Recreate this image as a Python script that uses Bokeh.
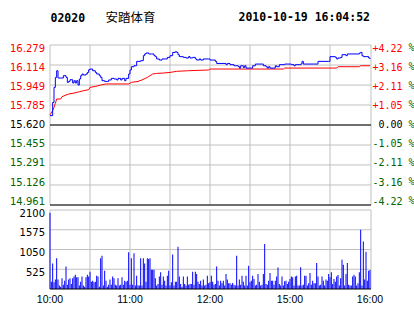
from bokeh.plotting import figure
from bokeh.models import Range1d
from bokeh.embed import file_html
from bokeh.resources import INLINE
from bokeh.core.properties import value

# ---------------- data ----------------
stock_code = "02020"
stock_name = "安踏体育"
timestamp = "2010-10-19 16:04:52"

prev_close = 15.620
price_ticks = [14.961, 15.126, 15.291, 15.455, 15.620, 15.785, 15.949, 16.114, 16.279]
pct_labels = ["-4.22", "-3.16", "-2.11", "-1.05", "0.00", "+1.05", "+2.11", "+3.16", "+4.22"]
vol_ticks = [525, 1050, 1575, 2100]
time_labels = ["10:00", "11:00", "12:00", "15:00", "16:00"]
grid_times = ["10:00", "10:30", "11:00", "11:30", "12:00", "12:30", "15:00", "15:30"]

price_times = ["10:00", "10:02", "10:03", "10:04", "10:05", "10:06", "10:09", "10:10", "10:12", "10:13",
               "10:14", "10:15", "10:17", "10:18", "10:19", "10:20", "10:21", "10:22", "10:23", "10:24",
               "10:25", "10:27", "10:28", "10:29", "10:30", "10:32", "10:34", "10:35", "10:37", "10:38",
               "10:39", "10:41", "10:43", "10:44", "10:46", "10:48", "10:50", "10:51", "10:53", "10:54",
               "10:56", "10:57", "10:59", "11:00", "11:01", "11:03", "11:05", "11:08", "11:10", "11:11",
               "11:12", "11:14", "11:16", "11:18", "11:19", "11:20", "11:22", "11:24", "11:27", "11:28",
               "11:30", "11:32", "11:34", "11:35", "11:36", "11:37", "11:40", "11:42", "11:44", "11:45",
               "11:47", "11:49", "11:50", "11:52", "11:53", "11:55", "11:59", "12:00", "12:04", "12:05",
               "12:12", "12:13", "12:15", "12:18", "12:21", "12:22", "12:23", "12:25", "12:26", "12:27",
               "12:30", "14:32", "14:34", "14:39", "14:40", "14:42", "14:43", "14:44", "14:45", "14:48",
               "14:49", "14:50", "14:52", "14:56", "15:01", "15:03", "15:04", "15:08", "15:09", "15:10",
               "15:21", "15:29", "15:30", "15:34", "15:35", "15:36", "15:38", "15:39", "15:42", "15:43",
               "15:52", "15:53", "15:54", "15:55", "15:59", "16:00"]
price_values = [15.697, 15.806, 15.930, 16.012, 16.067, 16.007, 16.007, 16.026, 16.012, 15.971,
                15.979, 15.993, 15.966, 15.985, 15.966, 15.985, 15.949, 15.999, 16.026, 16.040,
                16.032, 16.040, 16.053, 16.075, 16.081, 16.067, 16.053, 16.040, 16.026, 16.012,
                15.985, 15.979, 15.979, 15.991, 16.004, 15.999, 15.991, 16.004, 15.991, 16.004,
                15.985, 16.004, 16.040, 16.073, 16.100, 16.108, 16.144, 16.150, 16.191, 16.205,
                16.213, 16.205, 16.205, 16.191, 16.183, 16.164, 16.155, 16.164, 16.164, 16.177,
                16.191, 16.218, 16.224, 16.218, 16.199, 16.183, 16.177, 16.172, 16.183, 16.172,
                16.177, 16.164, 16.155, 16.164, 16.155, 16.164, 16.164, 16.155, 16.144, 16.127,
                16.117, 16.127, 16.117, 16.108, 16.103, 16.089, 16.108, 16.094, 16.108, 16.089,
                16.089, 16.108, 16.122, 16.122, 16.108, 16.100, 16.089, 16.100, 16.089, 16.089,
                16.108, 16.100, 16.117, 16.122, 16.117, 16.108, 16.117, 16.122, 16.144, 16.122,
                16.144, 16.144, 16.183, 16.177, 16.164, 16.172, 16.177, 16.199, 16.191, 16.205,
                16.213, 16.218, 16.191, 16.183, 16.172, 16.164]

avg_times = ["10:00", "10:02", "10:03", "10:04", "10:05", "10:08", "10:09", "10:12", "10:14", "10:18",
             "10:22", "10:25", "10:29", "10:30", "10:34", "10:38", "10:42", "10:59", "11:01", "11:06",
             "11:09", "11:13", "11:17", "11:20", "11:25", "11:30", "11:35", "11:43", "11:59", "12:00",
             "14:55", "14:56", "15:35", "15:36", "15:52", "15:53", "16:00"]
avg_values = [15.705, 15.738, 15.765, 15.798, 15.834, 15.834, 15.853, 15.867, 15.875, 15.883,
              15.894, 15.902, 15.911, 15.930, 15.938, 15.949, 15.958, 15.958, 15.971, 15.979,
              15.991, 16.012, 16.040, 16.045, 16.048, 16.053, 16.062, 16.067, 16.073, 16.081,
              16.081, 16.089, 16.089, 16.100, 16.100, 16.108, 16.108]

# one bar per trading minute, 10:00 .. 16:00 (lunch break removed)
volumes = [2030, 195, 680, 180, 250, 815, 250, 90, 60, 285, 115, 220, 595, 115, 250, 285, 130, 285, 330, 380,
           310, 310, 90, 195, 330, 90, 60, 310, 380, 335, 460, 195, 220, 180, 195, 355, 330, 60, 815, 885,
           90, 485, 220, 60, 115, 250, 115, 330, 285, 115, 90, 285, 90, 115, 310, 115, 220, 195, 220, 975,
           115, 815, 115, 950, 90, 355, 90, 90, 815, 90, 815, 680, 195, 815, 800, 815, 515, 515, 515, 285,
           90, 130, 330, 445, 115, 330, 220, 90, 355, 485, 90, 180, 915, 90, 195, 195, 1125, 330, 130, 60,
           330, 130, 90, 330, 115, 130, 130, 460, 115, 460, 400, 195, 130, 220, 90, 250, 90, 115, 355, 150,
           180, 355, 195, 115, 130, 595, 220, 90, 220, 150, 220, 90, 400, 250, 150, 150, 115, 160, 115, 90,
           885, 90, 250, 115, 355, 195, 90, 355, 90, 620, 180, 220, 355, 265, 90, 115, 400, 195, 90, 115,
           400, 1195, 130, 115, 220, 425, 220, 220, 115, 220, 335, 570, 130, 90, 330, 90, 205, 220, 130, 195,
           265, 330, 310, 90, 330, 355, 90, 90, 575, 90, 115, 355, 355, 90, 150, 425, 115, 220, 150, 150,
           690, 330, 90, 115, 330, 220, 90, 250, 220, 400, 310, 445, 130, 265, 195, 330, 370, 90, 285, 780,
           645, 90, 400, 690, 115, 90, 90, 330, 380, 330, 90, 150, 445, 1575, 90, 1260, 250, 990, 220, 485,
           505]


def trade_minute(t):
    h, m = map(int, t.split(":"))
    mins = h * 60 + m - 600
    return mins if mins <= 150 else mins - 120


RED = "#ff0000"
GREEN = "#006400"
GRID = "#c0c0c0"
BLUE = "#0000ff"

# ---------------- layout (pixels of the 414x314 canvas) ----------------
W, H = 414, 314
PX_MIN = 0.75                 # minutes per pixel
X_LEFT, X_RIGHT = 49.5, 370.5  # plot box edges (pixel centres)
P_TOP, P_BOT = 44.5, 204.5     # price panel rows of top / bottom tick
V_TOP, V_BOT = 209.5, 288.5    # volume panel rows of top tick / zero

x0 = -X_LEFT * PX_MIN
pk = (price_ticks[-1] - price_ticks[0]) / (P_BOT - P_TOP)
vk = vol_ticks[-1] / (V_BOT - V_TOP)
lab_top, lab_bot = 47.0, 200.3    # label rows (price panel)
rk = (len(price_ticks) - 1) / (lab_bot - lab_top)
VS = 2.5                          # volume labels sit a little below their lines

p = figure(width=W, height=H,
           x_range=Range1d(x0, x0 + W * PX_MIN),
           y_range=Range1d(price_ticks[0] - (H - P_BOT) * pk, price_ticks[-1] + P_TOP * pk),
           x_axis_location=None, y_axis_location=None, toolbar_location=None,
           output_backend="svg", min_border=0, outline_line_color=None,
           background_fill_color="white", border_fill_color="white")
p.grid.visible = False
p.extra_x_ranges = {"px": Range1d(0, W)}
p.extra_y_ranges = {
    "py": Range1d(H, 0),
    "vol": Range1d(-(H - V_BOT) * vk, vol_ticks[-1] + V_TOP * vk),
    "vlab": Range1d(-(H - V_BOT) * vk + VS * vk, vol_ticks[-1] + V_TOP * vk + VS * vk),
    "rows": Range1d(-(H - lab_bot) * rk, (len(price_ticks) - 1) + lab_top * rk),
}

gx = [trade_minute(t) for t in grid_times]
n_p, n_v, n_g = len(price_ticks), len(vol_ticks), len(gx)

# ---- price panel grid ----
p.segment(x0=[X_LEFT] * n_p, x1=[X_RIGHT] * n_p, y0=price_ticks, y1=price_ticks,
          line_color=GRID, line_width=1, x_range_name="px")
p.segment(x0=gx, x1=gx, y0=[price_ticks[0]] * n_g, y1=[price_ticks[-1]] * n_g,
          line_color=GRID, line_width=1)
p.segment(x0=[X_RIGHT], x1=[X_RIGHT], y0=[price_ticks[0]], y1=[price_ticks[-1]],
          line_color=GRID, line_width=1, x_range_name="px")
p.segment(x0=[X_LEFT, X_LEFT], x1=[X_RIGHT, X_RIGHT], y0=[prev_close, price_ticks[0]],
          y1=[prev_close, price_ticks[0]], line_color="black", line_width=1, x_range_name="px")

# ---- price lines ----
p.line([trade_minute(t) for t in avg_times], avg_values, line_color=RED, line_width=1)
p.step([trade_minute(t) for t in price_times], price_values, mode="after", line_color=BLUE, line_width=1)

# ---- price labels ----
rows = list(range(n_p))
mid = price_ticks.index(prev_close)
colors = [RED if i > mid else ("black" if i == mid else GREEN) for i in rows]
price_lbl = ["%.3f" % v for v in price_ticks]
pct_lbl = [s if s[0] in "+-" else "\u00a0" + s for s in pct_labels]
p.text(x=[44.5] * n_p, y=rows, text=price_lbl, text_color=colors, text_align="right",
       text_baseline="middle", text_font=value("DejaVu Sans"), text_font_size="10px",
       x_range_name="px", y_range_name="rows")
p.text(x=[372] * n_p, y=rows, text=pct_lbl, text_color=colors, text_align="left",
       text_baseline="middle", text_font=value("DejaVu Sans Mono"), text_font_size="10px",
       x_range_name="px", y_range_name="rows")
p.text(x=[408] * n_p, y=rows, text=["%"] * n_p, text_color=GREEN, text_align="left",
       text_baseline="middle", text_font=value("DejaVu Sans Mono"), text_font_size="10px",
       x_range_name="px", y_range_name="rows")

# ---- volume panel ----
p.segment(x0=[X_LEFT] * n_v, x1=[X_RIGHT] * n_v, y0=vol_ticks, y1=vol_ticks,
          line_color=GRID, line_width=1, x_range_name="px", y_range_name="vol")
p.segment(x0=gx, x1=gx, y0=[0] * n_g, y1=[vol_ticks[-1]] * n_g,
          line_color=GRID, line_width=1, y_range_name="vol")
p.segment(x0=[X_RIGHT], x1=[X_RIGHT], y0=[0], y1=[vol_ticks[-1]],
          line_color=GRID, line_width=1, x_range_name="px", y_range_name="vol")
p.vbar(x=list(range(len(volumes))), top=volumes, bottom=0, width=PX_MIN,
       fill_color=BLUE, line_color=None, y_range_name="vol")
p.segment(x0=[X_LEFT], x1=[X_RIGHT], y0=[0], y1=[0], line_color="black", line_width=1,
          x_range_name="px", y_range_name="vol")
p.text(x=[44.5] * n_v, y=vol_ticks, text=[str(v) for v in vol_ticks], text_color="black",
       text_align="right", text_baseline="middle", text_font=value("DejaVu Sans"),
       text_font_size="10px", x_range_name="px", y_range_name="vlab")

# ---- time labels ----
p.text(x=[trade_minute(t) for t in time_labels], y=[298] * len(time_labels), text=time_labels,
       text_color="black", text_align="center", text_baseline="middle",
       text_font=value("Liberation Sans"), text_font_size="10.5px", y_range_name="py")

# ---- header ----
p.text(x=[50], y=[16.7], text=[stock_code], text_font=value("DejaVu Sans Mono"), text_font_style="bold",
       text_font_size="11.5px", text_baseline="middle", text_color="black",
       x_range_name="px", y_range_name="py")
p.text(x=[105], y=[15.5], text=[stock_name], text_font=value("Noto Sans CJK SC"),
       text_font_size="12.5px", text_baseline="middle", text_color="black",
       x_range_name="px", y_range_name="py")
p.text(x=[238], y=[16.7], text=[timestamp], text_font=value("DejaVu Sans Mono"), text_font_style="bold",
       text_font_size="11.5px", text_baseline="middle", text_color="black",
       x_range_name="px", y_range_name="py")

open("out.html", "w").write(file_html(p, INLINE))
